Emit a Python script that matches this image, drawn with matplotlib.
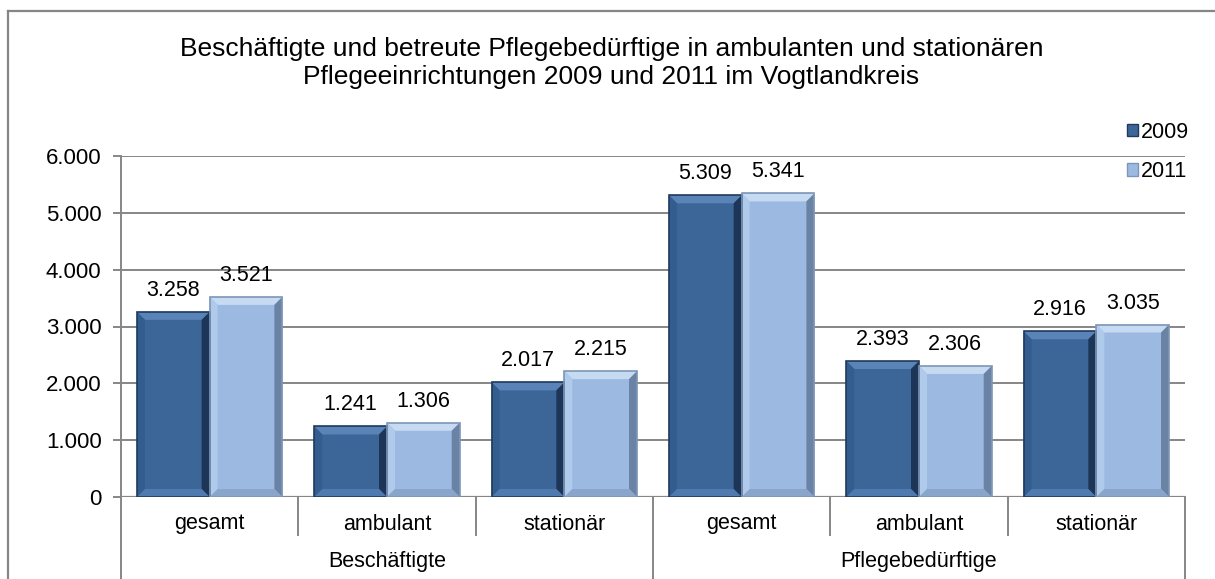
#!/usr/bin/env python3
"""Beschäftigte und Pflegebedürftige im Vogtlandkreis, 2009 vs 2011 (bevelled bar chart)."""

import matplotlib
matplotlib.use("Agg")
import matplotlib.pyplot as plt
from matplotlib.patches import Polygon, Rectangle
from matplotlib.lines import Line2D

plt.rcParams["font.family"] = ["Liberation Sans", "DejaVu Sans"]

TITLE = ("Beschäftigte und betreute Pflegebedürftige in ambulanten und stationären\n"
         "Pflegeeinrichtungen 2009 und 2011 im Vogtlandkreis")
groups = ["Beschäftigte", "Pflegebedürftige"]
categories = ["gesamt", "ambulant", "stationär", "gesamt", "ambulant", "stationär"]
years = ["2009", "2011"]
values_2009 = [3258, 1241, 2017, 5309, 2393, 2916]
values_2011 = [3521, 1306, 2215, 5341, 2306, 3035]
yticks = [0, 1000, 2000, 3000, 4000, 5000, 6000]

# face, top, left, right, bottom, outline
SHADES = {
    "2009": ("#3c6698", "#5a84b8", "#345d8f", "#1d3657", "#4f7aaf", "#1f3a5e"),
    "2011": ("#9bb9e1", "#c6daf2", "#b0caeb", "#6a83a4", "#8aa5ca", "#7d96b8"),
}

W, H, DPI = 12.15, 5.79, 100
fig = plt.figure(figsize=(W, H), dpi=DPI)
ax = fig.add_axes([121 / 1215, 82 / 579, 1064 / 1215, 341 / 579])
ax.set_xlim(0, len(categories))
ax.set_ylim(0, 6000)

GRID = "#868686"
for t in yticks[1:]:
    ax.axhline(t, color=GRID, lw=1.4, zorder=0)

# pixel-to-data scale for the bevel insets
ax_w_px = W * DPI * ax.get_position().width
ax_h_px = H * DPI * ax.get_position().height
px_x = len(categories) / ax_w_px
px_y = 6000 / ax_h_px


def bevel(ax, rect, shades, inset=8):
    face, top, left, right, bottom, edge = shades
    x0, y0 = rect.get_x(), rect.get_y()
    x1, y1 = x0 + rect.get_width(), y0 + rect.get_height()
    dx, dy = inset * px_x, inset * px_y
    ix0, ix1, iy0, iy1 = x0 + dx, x1 - dx, y0 + dy, y1 - dy
    sides = [
        ([(x0, y1), (x1, y1), (ix1, iy1), (ix0, iy1)], top),
        ([(x0, y0), (x0, y1), (ix0, iy1), (ix0, iy0)], left),
        ([(x1, y0), (x1, y1), (ix1, iy1), (ix1, iy0)], right),
        ([(x0, y0), (x1, y0), (ix1, iy0), (ix0, iy0)], bottom),
    ]
    for pts, c in sides:
        ax.add_patch(Polygon(pts, closed=True, facecolor=c, edgecolor="none", zorder=3))
    ax.add_patch(Rectangle((x0, y0), x1 - x0, y1 - y0, fill=False,
                           edgecolor=edge, lw=1.2, zorder=4))


bw = 0.41
xs = [i + 0.5 for i in range(len(categories))]
for year, vals, off in [("2009", values_2009, -bw / 2), ("2011", values_2011, bw / 2)]:
    bars = ax.bar([x + off for x in xs], vals, width=bw, color=SHADES[year][0],
                  edgecolor="none", zorder=2, label=year)
    for rect, v in zip(bars, vals):
        bevel(ax, rect, SHADES[year])
        ax.annotate(f"{v:,}".replace(",", "."), (rect.get_x() + bw / 2, v),
                    xytext=(0, 11.5), textcoords="offset points",
                    ha="center", va="baseline", fontsize=15.5)

# axes styling
for s in ["top", "right", "bottom"]:
    ax.spines[s].set_visible(False)
ax.spines["left"].set_color(GRID)
ax.spines["left"].set_linewidth(1.4)
ax.axhline(0, color=GRID, lw=1.6, zorder=1)
ax.set_yticks(yticks)
ax.set_yticklabels([f"{t:,}".replace(",", ".") for t in yticks], fontsize=16)
ax.tick_params(axis="y", length=6, width=1.4, color=GRID, pad=8)
ax.set_xticks([])

# two-level category axis drawn below the plot
tr = ax.get_xaxis_transform()
for i, cat in enumerate(categories):
    ax.text(i + 0.5, -27 / ax_h_px, cat, transform=tr, ha="center", va="center",
            fontsize=15.5)
for i in range(1, len(categories)):
    outer = i % 3 == 0
    ax.add_line(Line2D([i, i], [0, -(82 if outer else 38) / ax_h_px], transform=tr,
                       color=GRID, lw=1.4, clip_on=False))
ax.add_line(Line2D([0, 0], [0, -82 / ax_h_px], transform=tr, color=GRID, lw=1.4,
                   clip_on=False))
ax.add_line(Line2D([6, 6], [0, -82 / ax_h_px], transform=tr, color=GRID, lw=1.4,
                   clip_on=False))
for g, name in enumerate(groups):
    ax.text(g * 3 + 1.5, -65 / ax_h_px, name, transform=tr, ha="center",
            va="center", fontsize=15.5)

# legend
handles = [Rectangle((0, 0), 1, 1, facecolor=SHADES[y][0], edgecolor=SHADES[y][5])
           for y in years]
fig.legend(handles, years, loc="center left", bbox_to_anchor=(1127 / 1215, 1 - 152 / 579),
           frameon=False, fontsize=15.5, handlelength=0.5, handleheight=0.5,
           handletextpad=0.15, labelspacing=0.85, borderpad=0, borderaxespad=0)

fig.text(0.5 + 0.5 * (8 / 1215), 1 - 63 / 579, TITLE, ha="center", va="center",
         fontsize=19, linespacing=1.25)

# chart-area frame (top and left edges)
fig.add_artist(Line2D([8 / 1215, 8 / 1215], [0, 1 - 11 / 579], color=GRID, lw=1.6,
                      transform=fig.transFigure))
fig.add_artist(Line2D([8 / 1215, 1], [1 - 11 / 579, 1 - 11 / 579], color=GRID, lw=1.6,
                      transform=fig.transFigure))

fig.savefig("out.png", dpi=DPI)
